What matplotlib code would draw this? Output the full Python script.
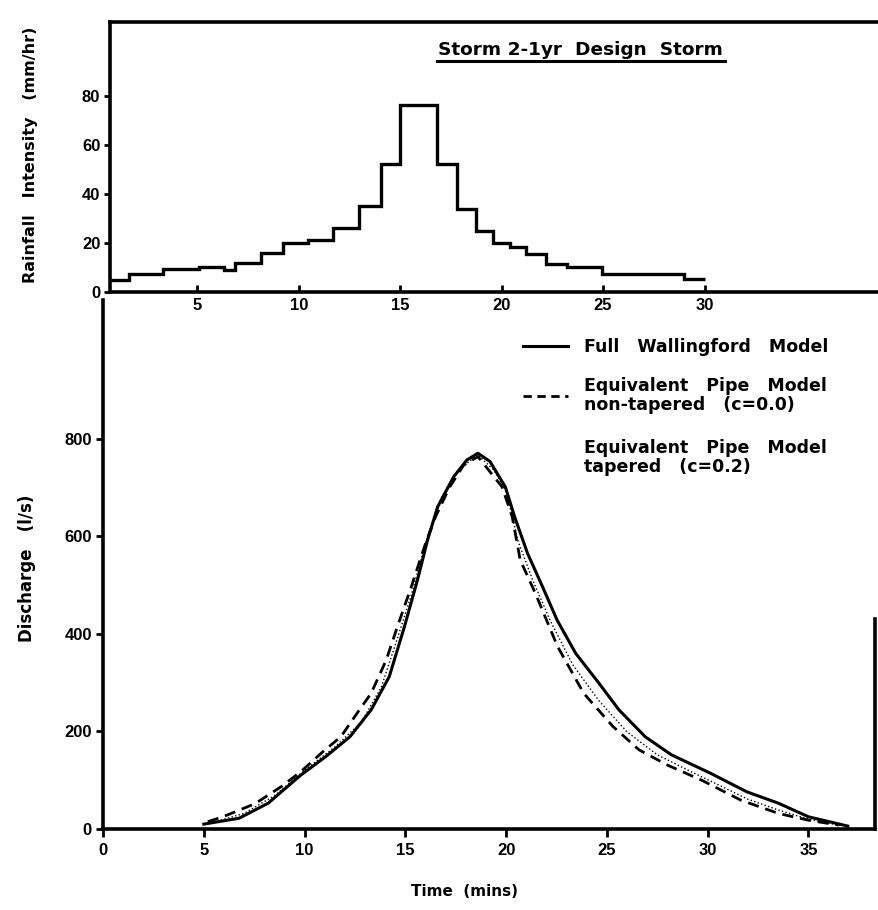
import matplotlib
matplotlib.use("Agg")
import matplotlib.pyplot as plt
from matplotlib.lines import Line2D
from matplotlib.font_manager import FontProperties

# ---------------- data ----------------
# rainfall hyetograph (step edges in minutes, intensities in mm/hr)
rain_edges = [0.72, 1.63, 3.29, 5.08, 6.3, 6.88, 8.12, 9.22, 10.46, 11.7, 12.95,
              14.05, 15.0, 16.8, 17.78, 18.74, 19.57, 20.4, 21.2, 22.2, 23.2,
              24.95, 29.0, 30.0]
rain_values = [4.7, 7.5, 9.2, 10.3, 9.0, 12, 16, 20, 21, 26, 35, 52, 76, 52, 34,
               25, 20, 18.5, 15.5, 11.5, 10, 7.5, 5.5]

# Full Wallingford Model
full_t = [5.0, 6.75, 8.2, 9.8, 11.04, 12.25, 13.3, 14.2, 14.95, 15.6, 16.1, 16.6,
          17.4, 18.05, 18.6, 19.2, 19.96, 20.42, 21.06, 21.8, 22.53, 23.45, 24.6,
          25.6, 26.9, 28.2, 30.15, 31.95, 33.5, 35.0, 36.95]
full_q = [10, 22, 53, 110, 148, 189, 244, 312, 414, 510, 592, 660, 722, 756, 770,
          753, 701, 640, 565, 497, 428, 360, 299, 244, 189, 152, 114, 76, 53, 25, 6]

# Equivalent Pipe Model, non-tapered (c=0.0)
nontap_t = [5.2, 5.95, 7.55, 8.85, 9.8, 10.9, 11.8, 12.55, 13.3, 14.05, 14.6, 15.3,
            16.0, 16.5, 17.2, 17.9, 18.6, 19.8, 20.3, 20.7, 21.45, 22.55, 23.85,
            25.3, 26.6, 28.0, 29.7, 31.65, 33.5, 35.0, 36.5]
nontap_q = [15, 25, 52, 87, 117, 158, 189, 234, 278, 346, 414, 497, 585, 640, 701,
            746, 763, 701, 640, 551, 483, 374, 278, 210, 162, 131, 100, 59, 32, 18, 8]

# Equivalent Pipe Model, tapered (c=0.2)
tap_t = [5.5, 7.0, 8.5, 10.0, 11.5, 12.8, 13.8, 14.6, 15.3, 16.0, 16.8, 17.6, 18.6,
         19.4, 20.0, 20.6, 21.3, 22.2, 23.3, 24.6, 26.0, 27.5, 29.0, 30.5, 32.0,
         33.5, 35.0, 36.6]
tap_q = [14, 32, 68, 120, 168, 218, 290, 390, 480, 585, 680, 735, 767, 735, 693,
         589, 512, 426, 337, 263, 199, 152, 121, 91, 61, 39, 20, 7]

rain_yticks = [0, 20, 40, 60, 80]
rain_xticks = [5, 10, 15, 20, 25, 30]
q_yticks = [0, 200, 400, 600, 800]
q_xticks = [0, 5, 10, 15, 20, 25, 30, 35]

labels = ["Full   Wallingford   Model",
          "Equivalent   Pipe   Model\nnon-tapered   (c=0.0)",
          "Equivalent   Pipe   Model\ntapered   (c=0.2)"]

# ---------------- figure ----------------
W, H = 879, 910
fig = plt.figure(figsize=(W / 100, H / 100), dpi=100)
fig.patch.set_facecolor("white")

tickfp = FontProperties(family="Liberation Sans", weight="bold", size=12)
lblfont = dict(family="DejaVu Sans", weight="bold")
legfp = FontProperties(family="DejaVu Sans", weight="bold", size=12.5)

def px_axes(l, t, r, b):
    return [l / W, 1 - b / H, (r - l) / W, (b - t) / H]

# --- bottom panel: discharge (transparent so the top panel's labels show) ---
ax2 = fig.add_axes(px_axes(103, 300, 875, 829))
ax2.patch.set_alpha(0)
ax2.plot(full_t, full_q, color="black", linewidth=2.2)
ax2.plot(nontap_t, nontap_q, color="black", linewidth=2.0, dashes=(4, 2.5))
ax2.plot(tap_t, tap_q, color="black", linewidth=1.0, linestyle=":")
ax2.set_xlim(0, 38.3)
ax2.set_ylim(0, 1084)
ax2.spines["top"].set_visible(False)
for s in ["left", "bottom", "right"]:
    ax2.spines[s].set_linewidth(2.6)
ax2.spines["right"].set_bounds(0, 430)
ax2.set_xticks(q_xticks)
ax2.set_yticks(q_yticks)
ax2.tick_params(axis="x", direction="out", length=6, width=2, pad=4)
ax2.tick_params(axis="y", direction="out", length=5, width=2, pad=3)
for lab in ax2.get_xticklabels() + ax2.get_yticklabels():
    lab.set_fontproperties(tickfp)

h_full = Line2D([], [], color="black", linewidth=2.2)
h_non = Line2D([], [], color="black", linewidth=2.0, dashes=(3, 2))
h_tap = Line2D([], [], color="white", linewidth=0)
leg1 = ax2.legend([h_full, h_non], labels[:2], loc="upper left",
                  bbox_to_anchor=(0.535, 0.941), frameon=False, handlelength=2.6,
                  handletextpad=0.9, labelspacing=1.2, borderaxespad=0.0,
                  prop=legfp)
for t in leg1.get_texts():
    t.set_linespacing(1.05)
ax2.add_artist(leg1)
leg2 = ax2.legend([h_tap], labels[2:], loc="upper left",
                  bbox_to_anchor=(0.535, 0.75), frameon=False, handlelength=2.6,
                  handletextpad=0.9, borderaxespad=0.0, prop=legfp)
for t in leg2.get_texts():
    t.set_linespacing(1.05)

# --- top panel: rainfall ---
ax1 = fig.add_axes(px_axes(110, 22, 879, 292))
ax1.patch.set_alpha(0)
ax1.stairs(rain_values, rain_edges, color="black", linewidth=2.4, baseline=None)
ax1.set_xlim(0.7, 38.6)
ax1.set_ylim(0, 110)
for s in ["top", "left", "bottom"]:
    ax1.spines[s].set_linewidth(2.6)
ax1.spines["right"].set_visible(False)
ax1.set_xticks(rain_xticks)
ax1.set_yticks(rain_yticks)
ax1.tick_params(axis="x", direction="in", length=5, width=2, pad=4)
ax1.tick_params(axis="y", direction="out", length=4, width=2, pad=3)
for lab in ax1.get_xticklabels() + ax1.get_yticklabels():
    lab.set_fontproperties(tickfp)
ax1.text(0.612, 0.896, "Storm 2-1yr  Design  Storm", transform=ax1.transAxes,
         ha="center", va="center", fontsize=13.3, **lblfont)
ax1.add_line(Line2D([0.425, 0.80], [0.856, 0.856], transform=ax1.transAxes,
                    color="black", linewidth=2.2))

# axis labels
fig.text(31 / W, 1 - 155 / H, "Rainfall   Intensity   (mm/hr)", rotation=90,
         ha="center", va="center", fontsize=11.5, **lblfont)
fig.text(27 / W, 1 - 568 / H, "Discharge   (l/s)", rotation=90,
         ha="center", va="center", fontsize=12, **lblfont)
fig.text(465 / W, 1 - 892 / H, "Time  (mins)", ha="center", va="center",
         fontsize=11, **lblfont)

fig.savefig("out.png", dpi=100, facecolor="white")
